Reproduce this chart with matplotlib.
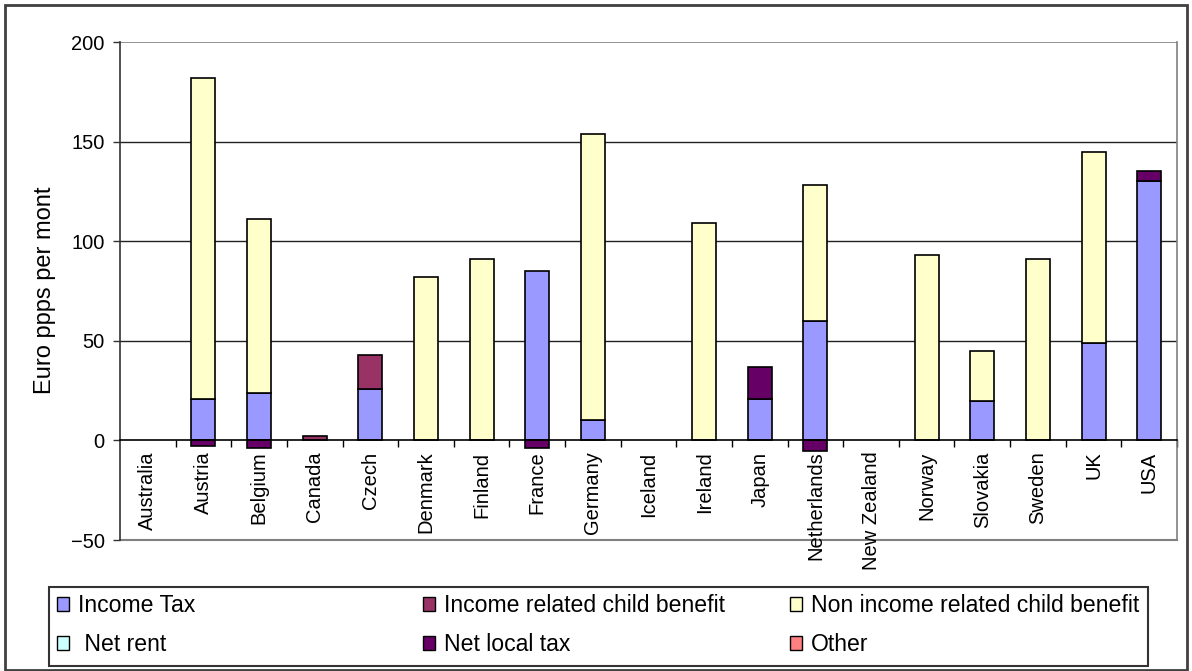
import numpy as np
import matplotlib
matplotlib.use("Agg")
import matplotlib.pyplot as plt
from matplotlib.patches import Patch, Rectangle
from matplotlib.ticker import FixedLocator

plt.rcParams['font.family'] = ['Liberation Sans', 'DejaVu Sans']

countries = ["Australia", "Austria", "Belgium", "Canada", "Czech", "Denmark", "Finland",
             "France", "Germany", "Iceland", "Ireland", "Japan", "Netherlands",
             "New Zealand", "Norway", "Slovakia", "Sweden", "UK", "USA"]

income_tax = [0, 21, 24, 0, 26, 0, 0, 85, 10, 0, 0, 21, 60, 0, 0, 20, 0, 49, 130]
income_related_cb = [0, 0, 0, 2, 17, 0, 0, 0, 0, 0, 0, 0, 0, 0, 0, 0, 0, 0, 0]
non_income_cb = [0, 161, 87, 0, 0, 82, 91, 0, 144, 0, 109, 0, 68, 0, 93, 25, 91, 96, 0]
net_rent = [0] * 19
net_local_tax = [0, -3, -4, 0, 0, 0, 0, -4, 0, 0, 0, 16, -5.5, 0, 0, 0, 0, 0, 5]
other = [0] * 19

series_names = ["Income Tax", "Income related child benefit", "Non income related child benefit",
                " Net rent", "Net local tax", "Other"]
series_vals = [income_tax, income_related_cb, non_income_cb, net_rent, net_local_tax, other]
colors = ["#9999FF", "#993366", "#FFFFCC", "#CCFFFF", "#660066", "#FF8080"]

W, H = 1192, 671
fig = plt.figure(figsize=(W / 100, H / 100), dpi=100)
ax = fig.add_axes([120 / W, 1 - 540 / H, (1177 - 120) / W, (540 - 42) / H])

x = np.arange(len(countries))
pos_bottom = np.zeros(len(countries))
neg_bottom = np.zeros(len(countries))
for vals, col in zip(series_vals, colors):
    v = np.array(vals, dtype=float)
    bottom = np.where(v >= 0, pos_bottom, neg_bottom)
    m = v != 0
    if m.any():
        ax.bar(x[m], v[m], bottom=bottom[m], width=0.43, color=col,
               edgecolor="black", linewidth=1.2, zorder=3)
    pos_bottom = pos_bottom + np.where(v > 0, v, 0)
    neg_bottom = neg_bottom + np.where(v < 0, v, 0)

ax.set_xlim(-0.5, len(countries) - 0.5)
ax.set_ylim(-50, 200)
ax.set_yticks([-50, 0, 50, 100, 150, 200])
ax.tick_params(axis='y', direction='out', length=5, width=1, color='#333333',
               labelsize=14.5, pad=6)
for yv in [50, 100, 150]:
    ax.axhline(yv, color='#222222', linewidth=1.0, zorder=1)
ax.axhline(200, color='#808080', linewidth=1.2, zorder=1)

# category axis at zero
ax.spines['bottom'].set_position(('data', 0))
ax.spines['bottom'].set_color('black')
ax.spines['bottom'].set_linewidth(1.2)
ax.spines['bottom'].set_zorder(4)
ax.set_xticks(x)
ax.set_xticklabels(countries, rotation=90, fontsize=14.5, va='top', ha='center')
ax.xaxis.set_minor_locator(FixedLocator(np.arange(0.5, len(countries), 1.0)))
ax.tick_params(axis='x', which='major', length=0, pad=8)
ax.tick_params(axis='x', which='minor', direction='out', length=5, width=1, color='black')

ax.spines['left'].set_color('#333333')
ax.spines['left'].set_linewidth(1.2)
ax.spines['right'].set_color('#808080')
ax.spines['right'].set_linewidth(1.2)
ax.spines['top'].set_visible(False)
ax.axhline(-50, color='#808080', linewidth=1.5, zorder=1, clip_on=False)

fig.text(45 / W, 1 - 290 / H, "Euro ppps per mont", rotation=90, fontsize=17,
         ha='center', va='center')

# legend: three columns in a framed box
handles = [Patch(facecolor=c, edgecolor='black', linewidth=1.0) for c in colors]
col_x = [57, 423, 790]
for k in range(3):
    idx = [k, k + 3]
    fig.legend([handles[i] for i in idx], [series_names[i] for i in idx],
               loc='upper left', bbox_to_anchor=(col_x[k] / W, 1 - 594 / H),
               frameon=False, fontsize=16.6, handlelength=0.52, handleheight=0.52,
               handletextpad=0.4, labelspacing=0.7, borderpad=0.0,
               borderaxespad=0.0)
fig.patches.append(Rectangle((49 / W, 1 - 666 / H), (1148 - 49) / W, (666 - 587) / H,
                             transform=fig.transFigure, fill=False,
                             edgecolor='#333333', linewidth=1.5))
fig.patches.append(Rectangle((5 / W, 1 - 670 / H), (1187 - 5) / W, (670 - 5) / H,
                             transform=fig.transFigure, fill=False,
                             edgecolor='#404040', linewidth=2))

fig.savefig("out.png", dpi=100)
